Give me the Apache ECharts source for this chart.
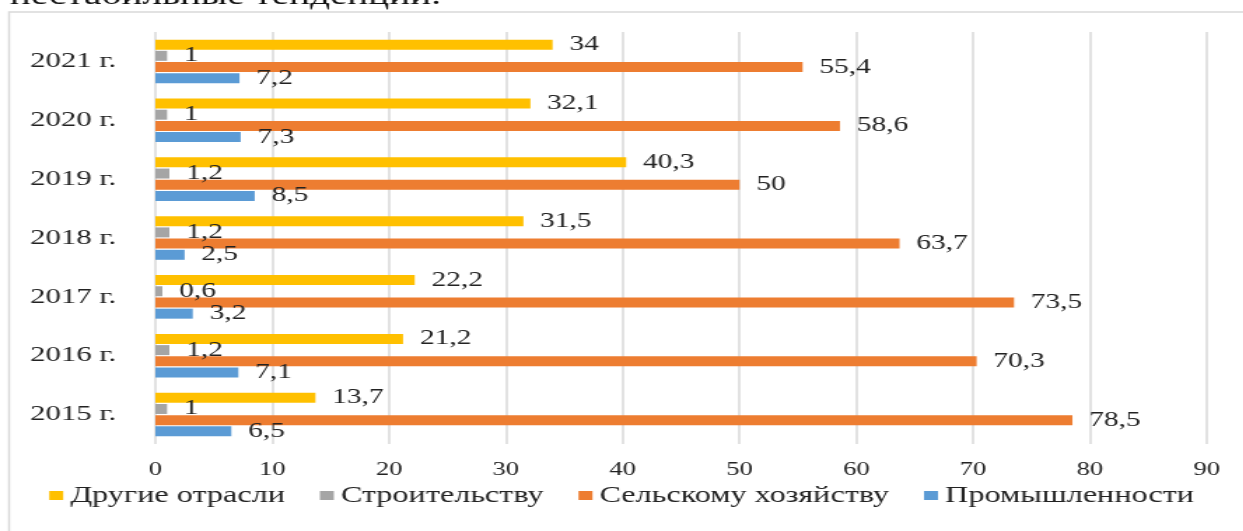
<!DOCTYPE html>
<html>
<head>
<meta charset="utf-8">
<script src="https://cdn.jsdelivr.net/npm/echarts@6/dist/echarts.min.js"></script>
<style>
  html, body { margin: 0; padding: 0; background: #fff; overflow: hidden; }
  #wrap { width: 1243px; height: 531px; overflow: hidden; }
  /* the source picture is stretched sideways, so draw narrow and stretch */
  #main { width: 888px; height: 531px; transform: scaleX(1.4); transform-origin: 0 0; }
</style>
</head>
<body>
<div id="wrap"><div id="main"></div></div>
<script>
var years = ['2015 г.', '2016 г.', '2017 г.', '2018 г.', '2019 г.', '2020 г.', '2021 г.'];
var other = [13.7, 21.2, 22.2, 31.5, 40.3, 32.1, 34];        // Другие отрасли
var construction = [1, 1.2, 0.6, 1.2, 1.2, 1, 1];           // Строительству
var agriculture = [78.5, 70.3, 73.5, 63.7, 50, 58.6, 55.4]; // Сельскому хозяйству
var industry = [6.5, 7.1, 3.2, 2.5, 8.5, 7.3, 7.2];         // Промышленности
var xTicks = [0, 10, 20, 30, 40, 50, 60, 70, 80, 90];

var font = '"Liberation Serif", "DejaVu Serif", serif';

function comma(p) {
  return String(p.value).replace('.', ',');
}

function barSeries(name, data, color) {
  return {
    name: name,
    type: 'bar',
    data: data,
    barWidth: 10,
    barGap: '12%',
    itemStyle: { color: color },
    label: {
      show: true,
      position: 'right',
      distance: 12,
      formatter: comma,
      fontFamily: font,
      fontSize: 21,
      color: '#222'
    }
  };
}

var chart = echarts.init(document.getElementById('main'));
var option = {
  animation: false,
  textStyle: { fontFamily: font },
  graphic: [
    {
      type: 'rect',
      shape: { x: 6.5, y: 12, width: 900, height: 540 },
      style: { fill: 'none', stroke: '#d9d9d9', lineWidth: 1.5 }
    },
    {
      type: 'text',
      left: 7,
      top: -17,
      style: { text: 'нестабильные тенденции.', font: '28px ' + font, fill: '#111' }
    }
  ],
  grid: { left: 111, right: 26, top: 32, bottom: 87 },
  legend: {
    top: 479,
    left: 'center',
    data: ['Другие отрасли', 'Строительству', 'Сельскому хозяйству', 'Промышленности'],
    itemWidth: 10,
    itemHeight: 9,
    itemGap: 25,
    icon: 'rect',
    textStyle: { fontFamily: font, fontSize: 23, color: '#222' }
  },
  xAxis: {
    type: 'value',
    min: xTicks[0],
    max: xTicks[xTicks.length - 1],
    interval: 10,
    axisLine: { show: false },
    axisTick: { show: false },
    splitLine: { lineStyle: { color: '#d9d9d9', width: 1.5 } },
    axisLabel: { fontFamily: font, fontSize: 19, color: '#222', margin: 17 }
  },
  yAxis: {
    type: 'category',
    data: years,
    axisLine: { show: false },
    axisTick: { show: false },
    axisLabel: { fontFamily: font, fontSize: 22, color: '#222', margin: 28 }
  },
  series: [
    barSeries('Другие отрасли', other, '#FFC000'),
    barSeries('Строительству', construction, '#A5A5A5'),
    barSeries('Сельскому хозяйству', agriculture, '#ED7D31'),
    barSeries('Промышленности', industry, '#5B9BD5')
  ]
};
chart.setOption(option);
</script>
</body>
</html>
